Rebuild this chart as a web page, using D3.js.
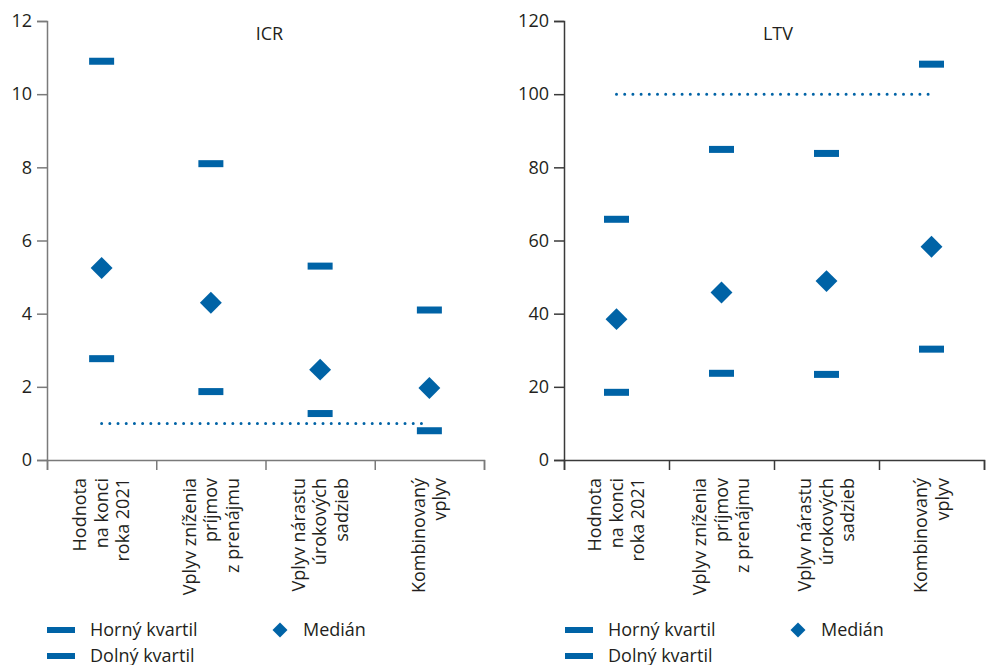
<!DOCTYPE html>
<html lang="sk">
<head>
  <meta charset="UTF-8">
  <title>ICR a LTV</title>
  <script src="https://d3js.org/d3.v7.min.js"></script>
  <style>
    body { margin: 0; background: #fff; }
    text { font-family: "Open Sans", sans-serif; fill: #231f20; }
  </style>
</head>
<body>
  <svg id="chart" width="986" height="665"></svg>

  <script>
    // kategórie (riadky popisu osi x)
    const categories = [
      ["Hodnota", "na konci", "roka 2021"],
      ["Vplyv zníženia", "príjmov", "z prenájmu"],
      ["Vplyv nárastu", "úrokových", "sadzieb"],
      ["Kombinovaný", "vplyv"]
    ];

    const icrUpper = [10.9, 8.1, 5.3, 4.1];
    const icrMedian = [5.25, 4.3, 2.47, 1.97];
    const icrLower = [2.77, 1.87, 1.27, 0.8];
    const icrThreshold = 1;
    const icrTicks = [0, 2, 4, 6, 8, 10, 12];

    const ltvUpper = [65.8, 84.9, 83.8, 108.2];
    const ltvMedian = [38.5, 45.8, 48.9, 58.3];
    const ltvLower = [18.5, 23.7, 23.4, 30.3];
    const ltvThreshold = 100;
    const ltvTicks = [0, 20, 40, 60, 80, 100, 120];

    const legendLabels = ["Horný kvartil", "Dolný kvartil", "Medián"];

    const blue = "#0063a6";
    const fontSize = "18px";
    const svg = d3.select("#chart");

    const diamond = d3.symbol().type(d3.symbolSquare);

    function drawPanel(p) {
      const g = svg.append("g");

      const y = d3.scaleLinear().domain([0, p.ticks[p.ticks.length - 1]]).range([460, 21]);
      const x = d3.scaleLinear().domain([0, categories.length]).range([p.x0, p.x1]);

      // osi
      const yAxis = g.append("g")
        .attr("transform", `translate(${p.x0},0)`)
        .call(d3.axisLeft(y).tickValues(p.ticks).tickSize(10).tickPadding(5));
      yAxis.selectAll("text").style("font-size", fontSize);

      const xAxis = g.append("g")
        .attr("transform", "translate(0,460)")
        .call(d3.axisBottom(x).tickValues(d3.range(categories.length + 1)).tickSize(10).tickFormat(""));

      [yAxis, xAxis].forEach(a => {
        a.select(".domain").attr("stroke", p.axisColor).attr("stroke-width", 1.5);
        a.selectAll(".tick line").attr("stroke", p.axisColor).attr("stroke-width", 1.5);
      });

      // popisy kategórií
      categories.forEach((lines, i) => {
        const cx = x(i + 0.5);
        const t = g.append("text")
          .attr("transform", `translate(${cx},478) rotate(-90)`)
          .attr("text-anchor", "end")
          .style("font-size", fontSize);
        lines.forEach((line, j) => {
          t.append("tspan")
            .attr("x", 0)
            .attr("y", (j - (lines.length - 1) / 2) * 21.5)
            .attr("dy", "0.35em")
            .text(line);
        });
      });

      // hranica
      g.append("line")
        .attr("x1", x(0.5))
        .attr("x2", x(categories.length - 0.5))
        .attr("y1", y(p.threshold))
        .attr("y2", y(p.threshold))
        .attr("stroke", blue)
        .attr("stroke-width", 3)
        .attr("stroke-linecap", "round")
        .attr("stroke-dasharray", "0,8.2");

      // kvartily
      [p.upper, p.lower].forEach(vals => {
        g.selectAll(null)
          .data(vals)
          .enter()
          .append("rect")
          .attr("x", (d, i) => x(i + 0.5) - 12.5)
          .attr("y", d => y(d) - 3.5)
          .attr("width", 25)
          .attr("height", 7)
          .attr("fill", blue);
      });

      // mediány
      g.selectAll(null)
        .data(p.median)
        .enter()
        .append("path")
        .attr("d", diamond.size(240)())
        .attr("transform", (d, i) => `translate(${x(i + 0.5)},${y(d)}) rotate(45)`)
        .attr("fill", blue);

      // názov
      g.append("text")
        .attr("x", (p.x0 + p.x1) / 2 + 4)
        .attr("y", 40)
        .attr("text-anchor", "middle")
        .style("font-size", fontSize)
        .text(p.title);

      // legenda
      const lg = g.append("g").attr("transform", `translate(${p.legendX},0)`);
      [0, 1].forEach(k => {
        lg.append("rect")
          .attr("x", 0)
          .attr("y", [630, 656][k] - 3)
          .attr("width", 28)
          .attr("height", 6)
          .attr("fill", blue);
        lg.append("text")
          .attr("x", 43)
          .attr("y", [630, 656][k] + 6)
          .style("font-size", fontSize)
          .text(legendLabels[k]);
      });
      lg.append("path")
        .attr("d", diamond.size(112)())
        .attr("transform", "translate(233,630) rotate(45)")
        .attr("fill", blue);
      lg.append("text")
        .attr("x", 256)
        .attr("y", 636)
        .style("font-size", fontSize)
        .text(legendLabels[2]);
    }

    drawPanel({
      title: "ICR", x0: 47, x1: 484, legendX: 47, axisColor: "#7a7a7a",
      ticks: icrTicks, upper: icrUpper, median: icrMedian, lower: icrLower, threshold: icrThreshold
    });

    drawPanel({
      title: "LTV", x0: 564, x1: 984, legendX: 565, axisColor: "#3a3a3a",
      ticks: ltvTicks, upper: ltvUpper, median: ltvMedian, lower: ltvLower, threshold: ltvThreshold
    });
  </script>
</body>
</html>
